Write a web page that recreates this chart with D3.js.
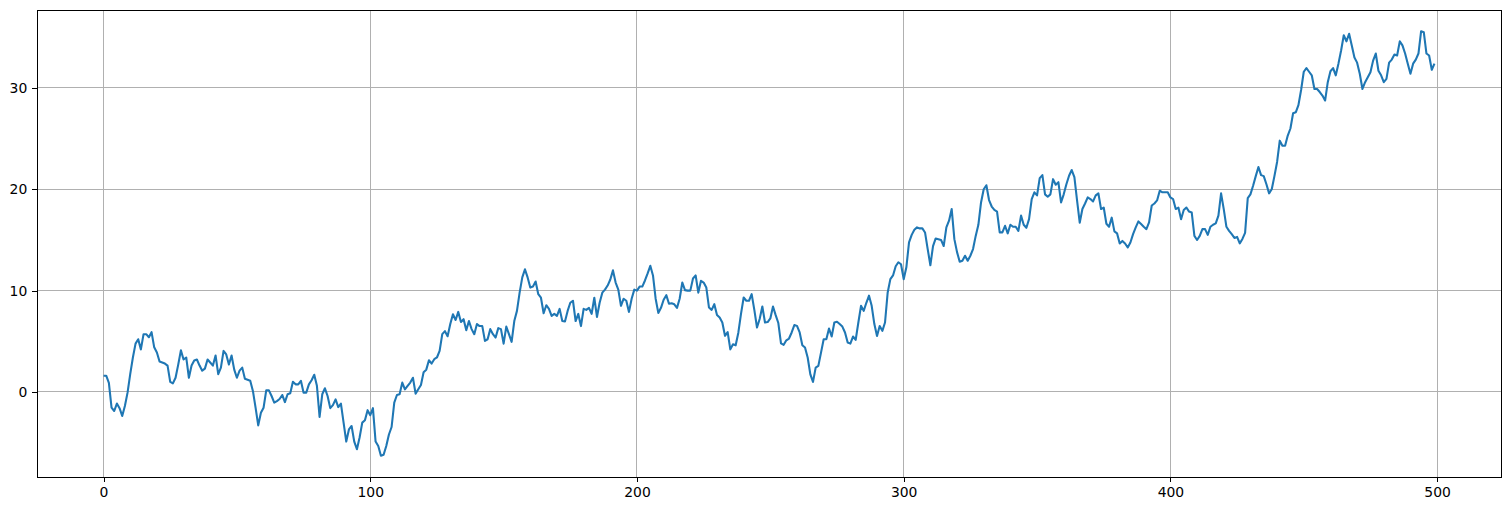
<!DOCTYPE html>
<html><head><meta charset="utf-8">
<script src="https://cdn.jsdelivr.net/npm/d3@7"></script>
<style>body{margin:0;background:#fff}svg{display:block}</style>
</head><body>
<script>
const values = [
1.6,1.6,0.9,-1.55,-1.88,-1.15,-1.6,-2.37,-1.38,-0.07,
1.75,3.4,4.77,5.2,4.2,5.7,5.7,5.4,5.9,4.4,
3.9,3.0,2.9,2.8,2.6,1.0,0.85,1.4,2.7,4.1,
3.2,3.4,1.4,2.6,3.1,3.2,2.6,2.1,2.3,3.2,
2.9,2.6,3.6,1.75,2.4,4.05,3.7,2.7,3.6,2.2,
1.4,2.1,2.4,1.3,1.2,1.1,0.1,-1.55,-3.3,-2.05,
-1.55,0.16,0.16,-0.4,-1.05,-0.9,-0.7,-0.3,-1.0,-0.23,
-0.13,1.0,0.75,0.75,1.1,-0.07,-0.07,0.75,1.15,1.7,
0.6,-2.47,-0.23,0.36,-0.4,-1.6,-1.3,-0.73,-1.5,-1.15,
-3.03,-4.9,-3.7,-3.36,-4.9,-5.65,-4.5,-3.03,-2.8,-1.8,
-2.3,-1.6,-4.9,-5.34,-6.3,-6.2,-5.34,-4.2,-3.46,-1.05,
-0.3,-0.23,0.92,0.26,0.59,0.92,1.4,-0.17,0.26,0.69,
1.95,2.2,3.13,2.8,3.23,3.4,4.05,5.7,6.0,5.5,
6.7,7.67,7.1,7.9,6.9,7.18,6.1,7.0,6.2,5.7,
6.7,6.5,6.5,5.04,5.2,6.2,5.7,5.37,6.3,6.2,
4.77,6.45,5.7,4.94,7.0,8.0,9.8,11.3,12.1,11.3,
10.3,10.4,10.9,9.65,9.3,7.77,8.56,8.2,7.5,7.7,
7.5,8.2,7.0,6.95,8.0,8.8,9.0,7.0,7.7,6.5,
8.2,8.1,8.3,7.7,9.3,7.4,8.8,9.8,10.1,10.5,
11.1,12.0,10.8,10.1,8.5,9.2,9.0,7.9,9.2,10.1,
10.0,10.4,10.4,11.0,11.7,12.45,11.5,9.2,7.8,8.3,
9.1,9.55,8.7,8.75,8.65,8.3,9.2,10.8,10.05,10.0,
10.0,11.2,11.5,9.8,10.97,10.8,10.3,8.33,8.1,8.66,
7.6,7.35,6.85,5.54,5.9,4.2,4.7,4.6,5.85,7.7,
9.32,9.0,9.0,9.65,8.1,6.36,7.2,8.43,6.85,6.9,
7.25,8.43,7.58,6.8,4.8,4.65,5.1,5.27,5.87,6.6,
6.52,5.87,4.61,4.38,3.4,1.74,0.99,2.4,2.57,3.88,
5.2,5.2,6.26,5.47,6.85,6.92,6.7,6.45,5.87,4.87,
4.77,5.47,5.14,6.85,8.5,8.0,8.8,9.5,8.5,6.7,
5.53,6.5,6.03,6.85,9.82,11.13,11.5,12.4,12.8,12.6,
11.13,12.3,14.76,15.5,16.0,16.24,16.14,16.14,15.74,14.1,
12.5,14.4,15.15,15.08,15.0,14.4,16.24,16.9,18.05,15.08,
13.8,12.85,12.95,13.44,12.95,13.44,14.1,15.4,16.5,18.7,
20.0,20.4,18.94,18.3,17.96,17.8,15.75,15.75,16.4,15.65,
16.5,16.3,16.3,15.9,17.4,16.5,16.2,17.06,19.04,19.7,
19.4,21.1,21.4,19.5,19.27,19.5,21.0,20.45,20.7,18.7,
19.5,20.5,21.34,21.9,21.2,18.9,16.7,18.05,18.6,19.2,
19.04,18.8,19.4,19.6,18.05,18.2,16.6,16.3,17.2,15.85,
15.65,14.65,14.9,14.65,14.26,14.75,15.58,16.24,16.83,16.57,
16.3,16.07,16.73,18.4,18.6,18.9,19.86,19.7,19.7,19.7,
19.2,19.04,18.05,18.2,17.05,17.95,18.2,17.8,17.7,15.4,
15.0,15.4,16.07,16.07,15.5,16.3,16.5,16.63,17.4,19.6,
18.05,16.3,15.9,15.57,15.2,15.3,14.66,15.1,15.7,19.13,
19.5,20.35,21.3,22.2,21.4,21.3,20.5,19.6,20.0,21.3,
22.7,24.8,24.3,24.3,25.3,26.0,27.5,27.6,28.3,29.8,
31.6,31.96,31.6,31.25,29.9,29.9,29.6,29.25,28.76,30.57,
31.65,31.96,31.25,32.4,33.7,35.2,34.6,35.35,34.2,33.0,
32.5,31.4,29.9,30.57,31.06,31.56,32.7,33.4,31.7,31.25,
30.57,30.9,32.5,32.8,33.3,33.2,34.6,34.2,33.4,32.4,
31.4,32.4,32.8,33.4,35.6,35.5,33.4,33.2,31.8,32.4
];
const xTicks = [0,100,200,300,400,500];
const yTicks = [0,10,20,30];

const W = 1511, H = 511;
const m = {left:37, right:1501, top:10, bottom:477};
const svg = d3.select("body").append("svg").attr("width",W).attr("height",H);

const n = values.length;
const xr = n - 1;
const x = d3.scaleLinear().domain([-0.05*xr, xr*1.05]).range([m.left, m.right]);
const [ymin, ymax] = d3.extent(values);
const yp = (ymax - ymin) * 0.05;
const y = d3.scaleLinear().domain([ymin - yp, ymax + yp]).range([m.bottom, m.top]);

const font = "DejaVu Sans, sans-serif";
const fs = "13.9px";

// grid
const grid = svg.append("g").attr("stroke","#b0b0b0").attr("stroke-width",1).attr("shape-rendering","crispEdges");
grid.selectAll(".gx").data(xTicks).join("line")
  .attr("x1",d=>x(d)).attr("x2",d=>x(d)).attr("y1",m.top).attr("y2",m.bottom);
grid.selectAll(".gy").data(yTicks).join("line")
  .attr("y1",d=>y(d)).attr("y2",d=>y(d)).attr("x1",m.left).attr("x2",m.right);

// line
svg.append("path").datum(values)
  .attr("fill","none").attr("stroke","#1f77b4").attr("stroke-width",2.08)
  .attr("stroke-linejoin","round").attr("stroke-linecap","butt")
  .attr("d", d3.line().x((d,i)=>x(i)).y(d=>y(d)));

// axes
const xAxis = d3.axisBottom(x).tickValues(xTicks).tickSize(4.86).tickPadding(4.86).tickFormat(d3.format("d"));
const yAxis = d3.axisLeft(y).tickValues(yTicks).tickSize(4.86).tickPadding(4.86).tickFormat(d3.format("d"));
const gx = svg.append("g").attr("transform",`translate(0,${m.bottom})`).call(xAxis);
const gy = svg.append("g").attr("transform",`translate(${m.left},0)`).call(yAxis);
[gx,gy].forEach(g=>{
  g.select(".domain").remove();
  g.selectAll(".tick line").attr("stroke","#000").attr("stroke-width",1).attr("shape-rendering","crispEdges");
  g.selectAll(".tick text").attr("fill","#000").style("font-family",font).style("font-size",fs);
});

// frame
svg.append("rect").attr("x",m.left).attr("y",m.top).attr("width",m.right-m.left).attr("height",m.bottom-m.top)
  .attr("fill","none").attr("stroke","#000").attr("stroke-width",1).attr("shape-rendering","crispEdges");
</script>
</body></html>
